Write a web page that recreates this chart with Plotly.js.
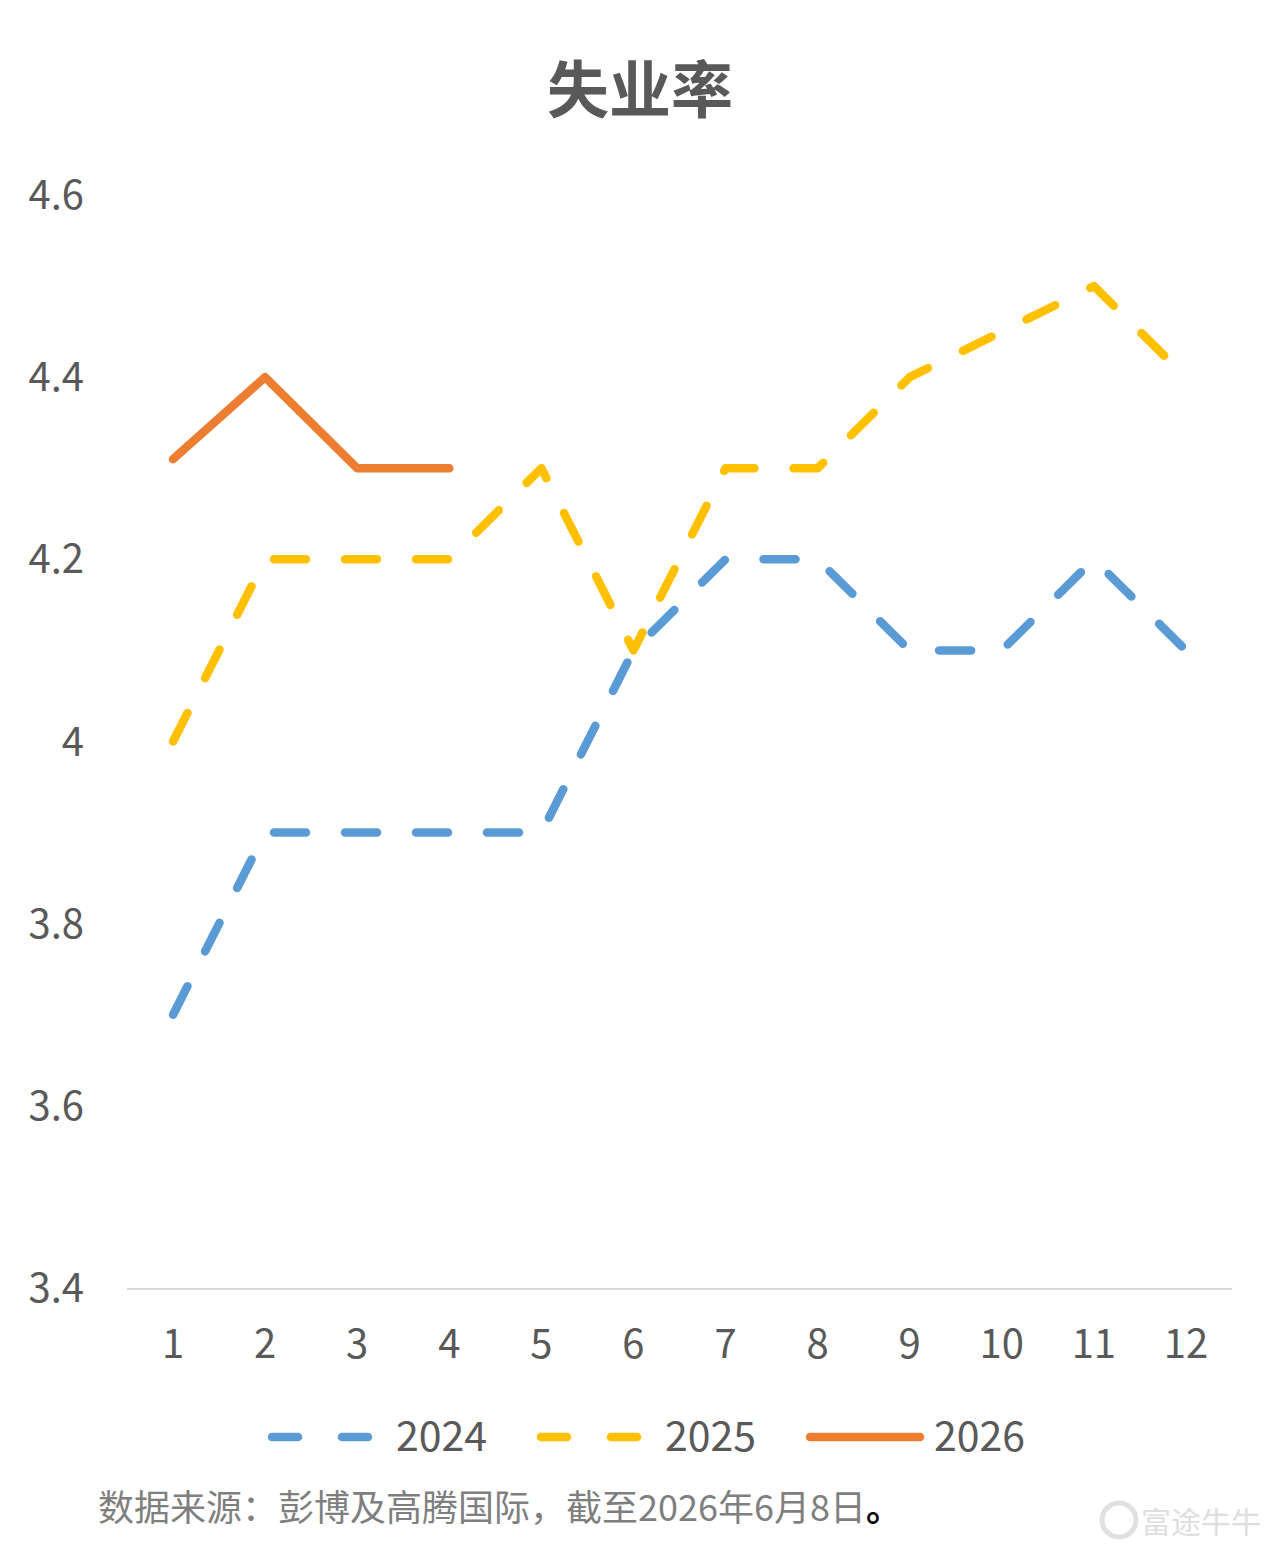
<!DOCTYPE html>
<html>
<head>
<meta charset="utf-8">
<script src="https://cdn.plot.ly/plotly-3.0.1.min.js"></script>
<style>
html, body { margin: 0; padding: 0; background: #fff; }
#chart { width: 1280px; height: 1557px; }
.scatterlayer .js-line { stroke-linecap: round; stroke-linejoin: round; }
.shapelayer path { stroke-linecap: round; }
</style>
</head>
<body>
<div id="chart"></div>
<script>
// ---- data ----
const months = ['1','2','3','4','5','6','7','8','9','10','11','12'];
const y2024 = [3.7, 3.9, 3.9, 3.9, 3.9, 4.1, 4.2, 4.2, 4.1, 4.1, 4.2, 4.1];
const y2025 = [4.0, 4.2, 4.2, 4.2, 4.3, 4.1, 4.3, 4.3, 4.4, null, 4.5, 4.4];
const y2026 = [4.31, 4.4, 4.3, 4.3];
const seriesNames = ['2024', '2025', '2026'];
const yTickVals = [3.4, 3.6, 3.8, 4.0, 4.2, 4.4, 4.6];
const yTickText = ['3.4', '3.6', '3.8', '4', '4.2', '4.4', '4.6'];
const titleText = '失业率';
const sourceText = '数据来源：彭博及高腾国际，截至2026年6月8日';
const watermarkText = '富途牛牛';

// ---- style ----
const W = 1280, H = 1557;
const mL = 127, mR = 48, mT = 195, mB = 269;
const plotW = W - mL - mR, plotH = H - mT - mB;
const px = x => (x - mL) / plotW;          // pixel x -> paper x
const py = y => (H - mB - y) / plotH;       // pixel y -> paper y
const colors = ['#5B9BD5', '#FFC000', '#ED7D31'];
const FONT = '"Noto Sans CJK SC", "Noto Sans", sans-serif';
const dashPat = '32px,39px';

const traces = [
  { x: months, y: y2024, name: seriesNames[0], type: 'scatter', mode: 'lines',
    line: { color: colors[0], width: 8.5, dash: dashPat }, connectgaps: true },
  { x: months, y: y2025, name: seriesNames[1], type: 'scatter', mode: 'lines',
    line: { color: colors[1], width: 8.5, dash: dashPat }, connectgaps: true },
  { x: months.slice(0, y2026.length), y: y2026, name: seriesNames[2], type: 'scatter', mode: 'lines',
    line: { color: colors[2], width: 8.5 } }
];

// custom legend (long samples)
const legendY = py(1437);
const legendTextY = py(1433);
const legendItems = [
  { x0: 268, x1: 375, tx: 394, dash: '26px,44px' },
  { x0: 537, x1: 644, tx: 663, dash: '26px,44px' },
  { x0: 806, x1: 924, tx: 932, dash: 'solid' }
];
const shapes = legendItems.map((it, i) => ({
  type: 'line', xref: 'paper', yref: 'paper',
  x0: px(it.x0 + 4), x1: px(it.x1 - 4), y0: legendY, y1: legendY,
  line: { color: colors[i], width: 8.5, dash: it.dash }
}));
// watermark logo circle
shapes.push({
  type: 'circle', xref: 'paper', yref: 'paper',
  x0: px(1102), x1: px(1136), y0: py(1537), y1: py(1503),
  line: { color: '#e0e0e0', width: 5 }, fillcolor: 'rgba(0,0,0,0)'
});

const annotations = legendItems.map((it, i) => ({
  xref: 'paper', yref: 'paper', x: px(it.tx), y: legendTextY,
  xanchor: 'left', yanchor: 'middle', showarrow: false,
  text: seriesNames[i], font: { family: FONT, size: 41, color: '#595959' }
}));
annotations.push({
  xref: 'paper', yref: 'paper', x: px(96), y: py(1505),
  xanchor: 'left', yanchor: 'middle', showarrow: false,
  text: sourceText + '<span style="color:#000000;font-weight:bold">。</span>',
  font: { family: FONT, size: 36, color: '#7f7f7f' }
});
annotations.push({
  xref: 'paper', yref: 'paper', x: px(1139), y: py(1520),
  xanchor: 'left', yanchor: 'middle', showarrow: false,
  text: watermarkText, font: { family: FONT, size: 30, color: '#dedede' }
});

const layout = {
  width: W, height: H,
  margin: { l: mL, r: mR, t: mT, b: mB, pad: 0 },
  paper_bgcolor: '#ffffff', plot_bgcolor: '#ffffff',
  showlegend: false,
  title: {
    text: '<b>' + titleText + '</b>',
    x: 0.5, xref: 'container', xanchor: 'center',
    y: 1 - 91 / H, yref: 'container', yanchor: 'middle',
    font: { family: FONT, size: 62, color: '#595959' }
  },
  xaxis: {
    type: 'category', range: [-0.5, 11.5],
    showgrid: false, zeroline: false,
    showline: true, linecolor: '#d9d9d9', linewidth: 2,
    ticks: '', ticklabelstandoff: 20,
    tickfont: { family: FONT, size: 40, color: '#595959' },
    fixedrange: true
  },
  yaxis: {
    range: [3.4, 4.6], tickvals: yTickVals, ticktext: yTickText,
    showgrid: false, zeroline: false, showline: false,
    ticks: '', ticklabelstandoff: 42,
    tickfont: { family: FONT, size: 40, color: '#595959' },
    fixedrange: true
  },
  shapes: shapes,
  annotations: annotations
};

Plotly.newPlot('chart', traces, layout, { staticPlot: true, displayModeBar: false });
</script>
</body>
</html>
